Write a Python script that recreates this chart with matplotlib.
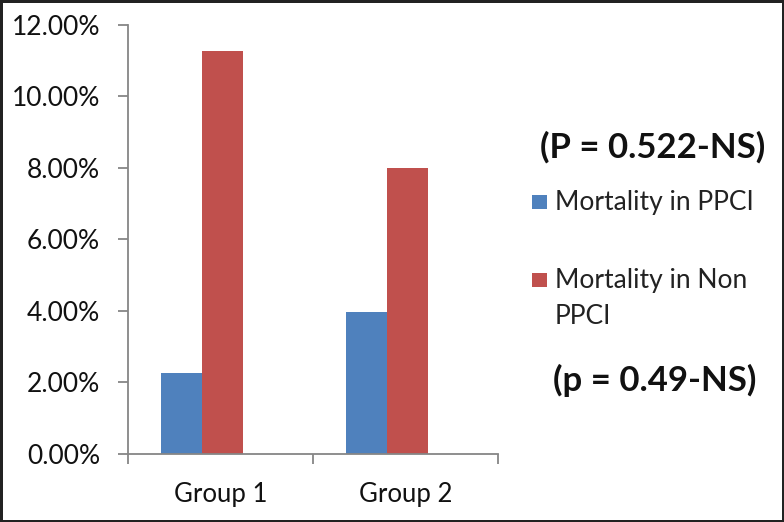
import numpy as np
import matplotlib
matplotlib.use("Agg")
import matplotlib.pyplot as plt
import matplotlib.patches as mpatches
from matplotlib.ticker import FuncFormatter

plt.rcParams['font.family'] = ['Lato', 'DejaVu Sans']

# --- data ---
groups = ["Group 1", "Group 2"]
ppci = [2.27, 3.98]          # Mortality in PPCI (%)
non_ppci = [11.26, 7.99]     # Mortality in Non PPCI (%)
series_labels = ["Mortality in PPCI", "Mortality in Non\nPPCI"]
p_top = "(P = 0.522-NS)"
p_bottom = "(p = 0.49-NS)"

blue = '#4F81BD'
red = '#C0504D'
axis_grey = '#868686'

fig = plt.figure(figsize=(7.84, 5.22), dpi=100, facecolor='white',
                 edgecolor='#222222', linewidth=2.5)
ax = fig.add_axes([128 / 784, 1 - 454 / 522, 370 / 784, (454 - 24.7) / 522])

x = np.arange(len(groups))
width = 0.222
shift = -0.1  # bars sit a little left of the category centre in the original
ax.bar(x + shift - width / 2, ppci, width, color=blue)
ax.bar(x + shift + width / 2, non_ppci, width, color=red)

ax.set_xlim(-0.5, len(groups) - 0.5)
ax.set_ylim(0, 12)
ax.set_yticks(np.arange(0, 12.1, 2))
ax.yaxis.set_major_formatter(FuncFormatter(lambda v, _: f"{v:.2f}%"))
ax.set_xticks(x)
ax.set_xticklabels(groups)
ax.set_xticks(np.arange(-0.5, len(groups), 1.0), minor=True)

for side in ['top', 'right']:
    ax.spines[side].set_visible(False)
for side in ['left', 'bottom']:
    ax.spines[side].set_color(axis_grey)
    ax.spines[side].set_linewidth(1.3)

ax.tick_params(axis='y', direction='out', length=7, width=1.3, color=axis_grey,
               labelsize=19, pad=13, labelcolor='#111111')
ax.tick_params(axis='x', which='major', length=0, labelsize=18.5, pad=20,
               labelcolor='#111111')
ax.tick_params(axis='x', which='minor', direction='out', length=7, width=1.3,
               color=axis_grey)

# --- p-value annotations and legend on the right ---
fig.text(540 / 784, 1 - 147 / 522, p_top, fontsize=25, fontweight='bold',
         ha='left', va='center', color='#111111')
fig.text(553 / 784, 1 - 380 / 522, p_bottom, fontsize=25, fontweight='bold',
         ha='left', va='center', color='#111111')

legend_rows = [(blue, series_labels[0], 202), (red, series_labels[1], 280)]
for color, label, yc in legend_rows:
    fig.patches.append(mpatches.Rectangle(
        (532 / 784, 1 - (yc + 7) / 522), 15 / 784, 14 / 522,
        transform=fig.transFigure, facecolor=color, edgecolor='none'))
    fig.text(555 / 784, 1 - (yc - 12) / 522, label, fontsize=19,
             ha='left', va='top', color='#222222', linespacing=1.55)

fig.savefig("out.png", dpi=100)
